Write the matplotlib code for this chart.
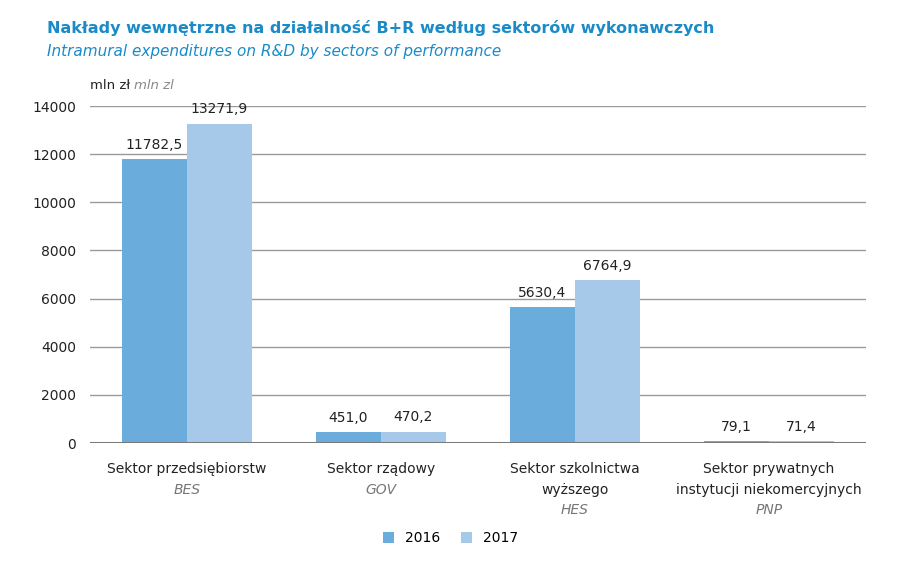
import matplotlib.pyplot as plt
import numpy as np

plt.rcParams['font.family'] = ['DejaVu Sans']

sectors = ['Sektor przedsiębiorstw', 'Sektor rządowy', 'Sektor szkolnictwa\nwyższego',
           'Sektor prywatnych\ninstytucji niekomercyjnych']
codes = ['BES', 'GOV', 'HES', 'PNP']
v2016 = [11782.5, 451.0, 5630.4, 79.1]
v2017 = [13271.9, 470.2, 6764.9, 71.4]
years = ['2016', '2017']

c16 = '#6aaddc'
c17 = '#a7c9e9'
blue = '#1b8bc8'

fig = plt.figure(figsize=(9.01, 5.64), dpi=100)
ax = fig.add_axes([0.0999, 0.2145, 0.861, 0.5975])

x = np.arange(len(sectors))
w = 0.335
b1 = ax.bar(x - w/2, v2016, w, color=c16, label=years[0], zorder=3)
b2 = ax.bar(x + w/2, v2017, w, color=c17, label=years[1], zorder=3)

for bars in (b1, b2):
    for r in bars:
        h = r.get_height()
        ax.text(r.get_x() + r.get_width()/2, h + 300, f'{h:.1f}'.replace('.', ','),
                ha='center', va='bottom', fontsize=10, color='#222222')

ax.set_xlim(-0.5, 3.5)
ax.set_ylim(0, 14000)
ax.set_yticks(range(0, 14001, 2000))
ax.yaxis.grid(True, color='#9a9a9a', linewidth=1, zorder=0)
ax.axhline(0, color='#7a7a7a', linewidth=2.2, zorder=4)
for s in ax.spines.values():
    s.set_visible(False)
ax.tick_params(axis='y', length=0, labelsize=10, pad=10, labelcolor='#222222')
ax.set_xticks([])

for i, (s, c) in enumerate(zip(sectors, codes)):
    nl = s.count('\n') + 1
    ax.annotate(s, xy=(i, 0), xycoords=('data', 'axes fraction'), xytext=(0, -14),
                textcoords='offset points', ha='center', va='top', fontsize=10,
                color='#222222', linespacing=1.55)
    ax.annotate(c, xy=(i, 0), xycoords=('data', 'axes fraction'),
                xytext=(0, -14 - nl * 14.5), textcoords='offset points',
                ha='center', va='top', fontsize=10, color='#777777', style='italic')

fig.text(0.052, 0.95, 'Nakłady wewnętrzne na działalność B+R według sektorów wykonawczych',
         fontsize=11.5, fontweight='bold', color=blue, va='center')
fig.text(0.052, 0.908, 'Intramural expenditures on R&D by sectors of performance',
         fontsize=11, style='italic', color=blue, va='center')
fig.text(0.1, 0.849, 'mln zł', fontsize=9.5, color='#222222', va='center')
fig.text(0.149, 0.849, 'mln zl', fontsize=9.5, color='#888888', style='italic', va='center')

fig.legend(handles=[b1, b2], labels=years, loc='center', bbox_to_anchor=(0.5, 0.046),
           ncol=2, frameon=False, fontsize=10, handlelength=0.8, handleheight=0.8,
           columnspacing=1.5, handletextpad=0.8)

fig.savefig('out.png', dpi=100)
